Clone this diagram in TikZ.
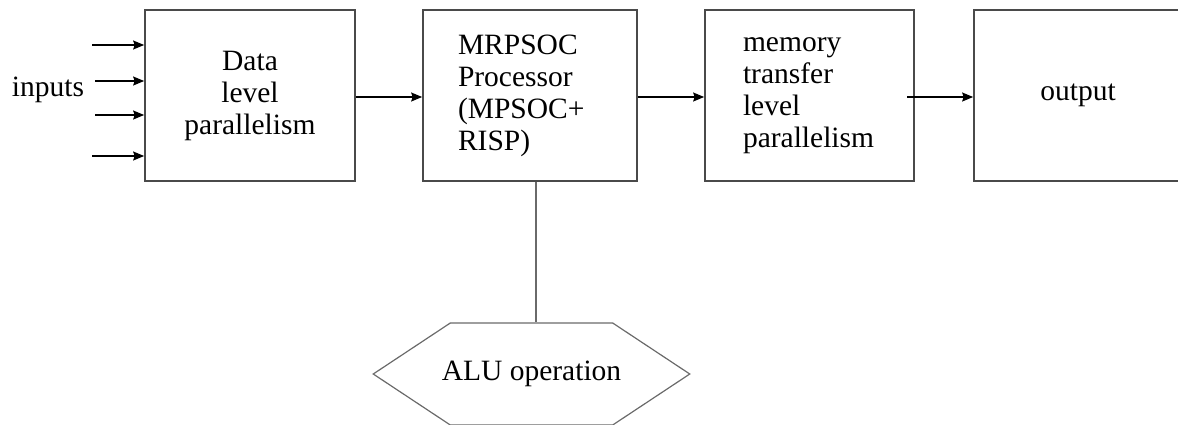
\documentclass[tikz,border=0pt]{standalone}
\usepackage{fontspec}
\setmainfont{Liberation Serif}
\usetikzlibrary{arrows.meta,shapes.symbols,calc}
\definecolor{boxgray}{HTML}{4A4A4A}
\definecolor{hexgray}{HTML}{6A6A6A}

\begin{document}
\begin{tikzpicture}[x=1pt,y=-1pt,
  txt/.style={font=\fontsize{29.5}{32}\selectfont},
  block/.style={txt, draw=boxgray, line width=1.7pt, minimum height=171pt,
    inner sep=0pt},
  link/.style={-{Stealth[length=11pt,width=9pt,inset=1.5pt]},
    line width=1.4pt, black},
  label/.style={txt, inner sep=0pt},
]
\useasboundingbox (0,0) rectangle (1178,424);
\clip (0,0) rectangle (1178,424);

% processing stages
\node[block, minimum width=210pt, align=center] (dlp) at (250,95.5)
  {Data\\level\\parallelism};
\node[block, minimum width=214pt, align=left, text width=144pt] (proc) at (530,95.5)
  {MRPSOC\\Processor\\(MPSOC+\\RISP)};
\node[block, minimum width=209pt, align=left, text width=133pt] (mem) at (809.5,95.5)
  {memory\\transfer\\level\\parallelism};
\node[block, minimum width=208pt] (out) at (1078,95.5) {output};

% ALU unit below the processor
\node[signal, signal to=east and west, signal pointer angle=67,
  draw=hexgray, line width=1.2pt, minimum height=102pt,
  inner xsep=-8.5pt, inner ysep=0pt, txt] (alu) at (531.5,374)
  {ALU operation};

% input label and input lines
\node[label] (inlbl) at (48,90) {inputs};
\coordinate (i1) at (92,45);
\coordinate (i2) at (95,81);
\coordinate (i3) at (95,115);
\coordinate (i4) at (92,156);
\foreach \c in {i1,i2,i3,i4}
  \draw[link] (\c) -- (\c -| dlp.west);

% data flow between stages
\draw[link] (dlp.east |- 0,97) -- (proc.west |- 0,97);
\draw[link] (proc.east |- 0,97) -- (mem.west |- 0,97);
\coordinate (m3) at (907,97);
\draw[link] (m3) -- (m3 -| out.west);

% processor to ALU
\draw[draw=hexgray, line width=1.4pt] (proc.south -| 536,0) -- (alu.north -| 536,0);
\end{tikzpicture}
\end{document}
